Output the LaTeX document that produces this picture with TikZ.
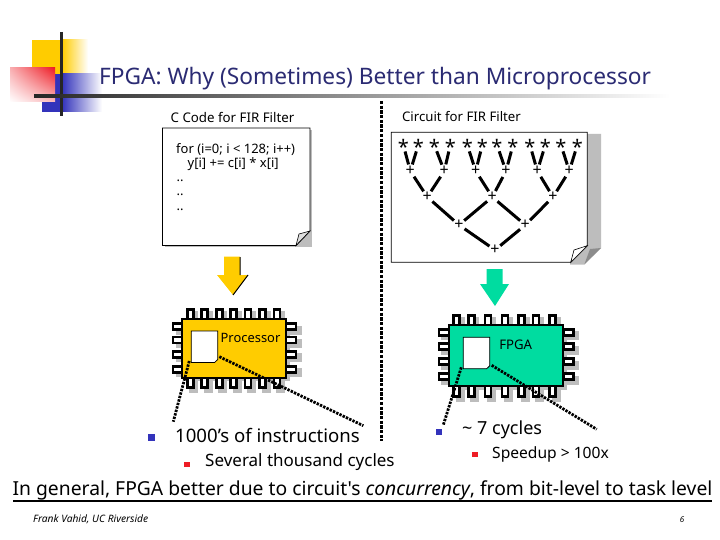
\documentclass[tikz,border=0pt]{standalone}
\usepackage{fontspec}
\setmainfont{Noto Sans}[Ligatures=TeXOff]
\usetikzlibrary{calc,shadings}
\definecolor{navy}{HTML}{2B2B73}
\definecolor{logoy}{HTML}{FFCC00}
\definecolor{logob}{HTML}{3333BB}
\definecolor{logor}{HTML}{EE1C25}
\definecolor{fpgag}{HTML}{00DCA0}
\definecolor{greyc}{HTML}{BDBDBD}
\newcommand{\flatstar}{\raisebox{-9.5pt}[0pt][0pt]{\makebox[0pt]{\fontsize{20}{20}\selectfont *}}}
\tikzset{
 lbl/.style={inner sep=0pt,font=\fontsize{#1}{#1}\selectfont,text=black},
 op/.style={inner sep=0pt,minimum size=13pt,circle,font=\fontsize{16}{16}\selectfont},
 wire/.style={line width=3pt,black},
 dots/.style={line width=2.8pt,dash pattern=on 2.4pt off 1.2pt,black},
 pin/.style={draw=black,line width=2.6pt,fill=white},
 body/.style={draw=black,line width=2pt},
 page/.style={draw=black,line width=0.8pt,fill=white},
}
\begin{document}
\begin{tikzpicture}[x=1pt,y=-1pt]
\useasboundingbox (0,0) rectangle (720,540);
\fill[white] (0,0) rectangle (720,540);
% logo
\fill[logoy] (32,40) rectangle (62,75);
\shade[left color=logoy,right color=white] (62,40) rectangle (88,75);
\fill[logob] (42,74) rectangle (62,112);
\shade[left color=logob,right color=white] (62,74) rectangle (102,112);
\shade[upper left=logor!35,upper right=logor,lower right=logor!30,lower left=white] (10,68) rectangle (55,102);
\draw[line width=3pt,black!85] (61.5,32) -- (61.5,116);
\shade[left color=black!85,right color=white] (34,94.3) rectangle (670,98);
% title
\node[lbl=22.7,text=navy,anchor=center] (title) at (375,79) {FPGA: Why (Sometimes) Better than Microprocessor};
\node[lbl=13.3] (lc) at (232.5,117) {C Code for FIR Filter};
\node[lbl=13.2] (lr) at (461.5,117) {Circuit for FIR Filter};
% divider
\coordinate (d1) at (381.5,101); \coordinate (d2) at (381.5,441);
\draw[line width=3pt,dash pattern=on 3.3pt off 1.4pt] (d1) -- (d2);
% C note
\fill[greyc] (165,130) rectangle (311.5,247);
\path[page] (162.5,128) -- (310,128) -- (310,231) -- (296,245.5) -- (162.5,245.5) -- cycle;
\draw[line width=.6pt,fill=greyc!50] (296,245.5) -- (299,234) -- (310,231) -- cycle;
\node[lbl=13,anchor=west] (c1) at (176,150) {for (i=0; i < 128; i++)};
\node[lbl=13,anchor=west] (c2) at (187.5,164) {y[i] += c[i] * x[i]};
\node[lbl=13,anchor=west] (c3) at (176.5,181) {..};
\node[lbl=13,anchor=west] (c4) at (176.5,195) {..};
\node[lbl=13,anchor=west] (c5) at (176.5,210) {..};
% circuit note
\fill[greyc] (587,134) -- (601,134) -- (601,248) -- (584.5,264.7) -- (570,264.7) -- (570,262) -- (587,246) -- cycle;
\path[page] (391.3,132.3) -- (587.3,132.3) -- (587.3,245.7) -- (570.7,262.3) -- (391.3,262.3) -- cycle;
\fill[black!45] (584.5,264) -- (601,248) -- (590,249) -- cycle;
\draw[line width=.6pt,fill=white] (570.7,262.3) -- (574,250) -- (587.3,245.7) -- cycle;
% tree
\foreach \n/\x in {1/403.3,2/418.3,3/434.3,4/450.3,5/467.3,6/482.3,7/497,8/513,9/530,10/545.3,11/561,12/577.3}
  \node[op] (s\n) at (\x,145) {\flatstar};
\foreach \n/\x in {1/410.3,2/444.3,3/475.7,4/506,5/537.3,6/569.3}
  \node[op] (a\n) at (\x,171) {+};
\foreach \n/\x in {1/427.3,2/492.3,3/553}
  \node[op] (b\n) at (\x,197) {+};
\node[op] (e1) at (459,225) {+};
\node[op] (e2) at (525.3,225) {+};
\node[op] (f) at (495,250) {+};
\foreach \p/\q in {s1/a1,s2/a1,s3/a2,s4/a2,s5/a3,s6/a3,s7/a4,s8/a4,s9/a5,s10/a5,s11/a6,s12/a6,a1/b1,a2/b1,a3/b2,a4/b2,a5/b3,a6/b3,b1/e1,b2/e1,b2/e2,b3/e2,e1/f,e2/f}
  \draw[wire] (\p) -- (\q);
% arrows
\path[fill=logoy] (224,256.5) -- (240,256.5) -- (240,275) -- (248,275) -- (233,295) -- (217,275) -- (224,275) -- cycle;
\draw[line width=1pt] (240,257) -- (240,275) (248,275) -- (233,295);
\path[fill=fpgag] (486.5,269) -- (502.5,269) -- (502.5,284) -- (509,284) -- (495,306) -- (480,284) -- (486.5,284) -- cycle;
% processor chip
\fill[greyc] (186,323) rectangle (290,381);
\foreach \x in {190.3,204.7,219.3,233.7,248,262.7,277}{
  \fill[greyc] (\x-1,311) rectangle (\x+8,322);
  \fill[greyc] (\x-1,381) rectangle (\x+8,393);
  \draw[pin] (\x-3,309.3) rectangle (\x+3,320);
  \draw[pin] (\x-3,377) rectangle (\x+3,387.7);
}
\foreach \y in {326.7,340,354.3,369.3}{
  \fill[greyc] (290,\y-1) rectangle (301.5,\y+8);
  \fill[greyc] (176,\y+1) rectangle (186,\y+8);
  \draw[pin] (173,\y-3) rectangle (183,\y+3);
  \draw[pin] (286,\y-3) rectangle (296,\y+3);
}
\draw[body,fill=logoy] (182.3,319.3) rectangle (286,377.7);
\path[page] (191.3,331) -- (217.7,331) -- (217.7,359.5) -- (214.7,362.4) -- (191.3,362.4) -- cycle;
\node[lbl=12.9] (pr) at (250.5,338) {Processor};
\coordinate (p1) at (189.3,361); \coordinate (p2) at (173.3,421.7);
\coordinate (p3) at (219.3,356.7); \coordinate (p4) at (363.3,425.7);
\draw[dots] (p1) -- (p2);
\draw[dots] (p3) -- (p4);
% FPGA chip
\fill[greyc] (453,329) rectangle (567,390);
\foreach \x in {456.7,471.3,488,505,521.7,536,552.7}{
  \fill[greyc] (\x-1,317) rectangle (\x+8,328);
  \fill[greyc] (\x-1,390) rectangle (\x+8,402);
  \draw[pin] (\x-3,315.3) rectangle (\x+3,326);
  \draw[pin] (\x-3,386) rectangle (\x+3,396.5);
}
\foreach \y in {332.3,346.7,361.7,376.7}{
  \fill[greyc] (567,\y-1) rectangle (579,\y+8);
  \fill[greyc] (441,\y+1) rectangle (452,\y+8);
  \draw[pin] (439,\y-3) rectangle (449,\y+3);
  \draw[pin] (563.3,\y-3) rectangle (573.5,\y+3);
}
\draw[body,fill=fpgag] (449,324.7) rectangle (563.3,386);
\path[page] (463.3,337.3) -- (489.7,337.3) -- (489.7,365.8) -- (486.7,368.7) -- (463.3,368.7) -- cycle;
\node[lbl=13.2] (fp) at (515.7,345) {FPGA};
\coordinate (q1) at (461.3,367.3); \coordinate (q2) at (443.3,425);
\coordinate (q3) at (491.7,365.3); \coordinate (q4) at (596.7,429.3);
\draw[dots] (q1) -- (q2);
\draw[dots] (q3) -- (q4);
% bullets
\fill[logob] (148.3,434.3) rectangle (155,440.7);
\node[lbl=18.6,anchor=west] (t1) at (175,435) {1000’s of instructions};
\fill[logor] (184,462) rectangle (190,467.3);
\node[lbl=17,anchor=west] (t2) at (205,462) {Several thousand cycles};
\fill[logob] (436,429) rectangle (442,434.7);
\node[lbl=18,anchor=west] (t3) at (462,430) {\textasciitilde{} 7 cycles};
\fill[logor] (472,452) rectangle (478,457.3);
\node[lbl=15.6,anchor=west] (t4) at (492,454) {Speedup > 100x};
% bottom
\node[lbl=19.3] (g) at (362.5,490.5) {In general, FPGA better due to circuit's \textit{concurrency}, from bit-level to task level};
\coordinate (u1) at (13,500.5); \coordinate (u2) at (712,500.5);
\draw[line width=2pt] (u1) -- (u2);
\node[lbl=10.2,anchor=west] (ft) at (33,519) {\textit{Frank Vahid, UC Riverside}};
\node[lbl=8,anchor=center] (pg) at (682,519.5) {\textit{6}};
\end{tikzpicture}
\end{document}
